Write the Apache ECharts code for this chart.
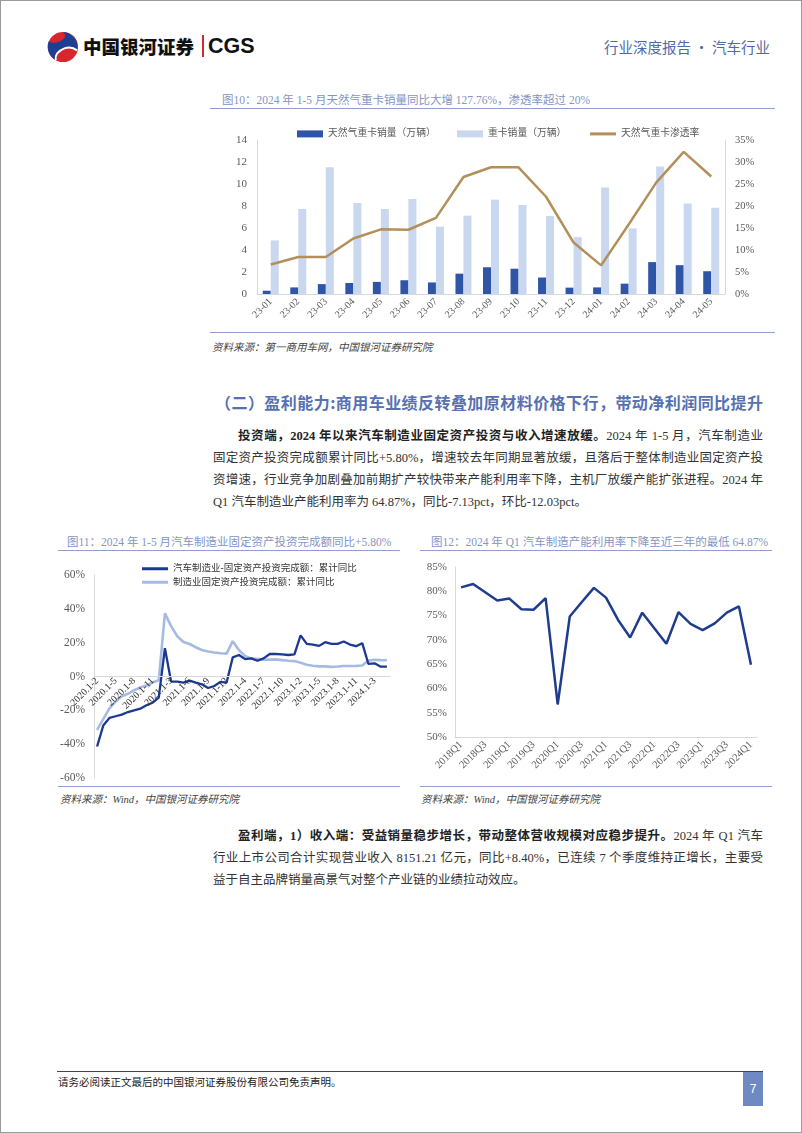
<!DOCTYPE html>
<html><head><meta charset="utf-8">
<script src="https://cdn.jsdelivr.net/npm/echarts@6/dist/echarts.min.js"></script>
<style>
html,body{margin:0;padding:0}
body{width:802px;height:1133px;position:relative;background:#fff;overflow:hidden;font-family:"Liberation Serif","Noto Sans CJK SC",serif;color:#333}
.abs{position:absolute}
.frame{left:0;top:0;width:800px;height:1131px;border:1px solid #9a9a9a}
.ttl{font-size:11.5px;color:#8395c4;white-space:nowrap}
.hl{height:0;border-top:1.5px solid #8fa0cc}
.src{font-size:10.5px;font-style:italic;color:#444;white-space:nowrap}
.p{left:213px;width:550px;font-size:12.5px;line-height:22px;text-align:justify;text-align-last:justify;white-space:nowrap;color:#333}
.p b{font-weight:bold;color:#222}
.chart{position:absolute}
</style></head><body>
<div class="abs frame"></div>

<!-- header -->
<svg class="abs" style="left:47px;top:31px" width="32" height="32" viewBox="0 0 33 33">
  <circle cx="16.5" cy="16.5" r="15.5" fill="#d8262f"/>
  <path d="M16.5 1 A15.5 15.5 0 0 1 31 20 C26 14 18 16 14 19 C10 22 8 26 9 30 A15.5 15.5 0 0 1 2 10 C5 14 12 12 16 9 C19 7 20 4 16.5 1 Z" fill="#1c3f94"/>
  <path d="M9 30 C8 24 13 20 18 18 C23 16 27 17 31 20" stroke="#fff" stroke-width="2" fill="none"/>
</svg>
<div class="abs" style="left:83px;top:34px;font-family:'Noto Sans CJK SC',sans-serif;font-weight:900;font-size:18.5px;line-height:24px;color:#111;white-space:nowrap">中国银河证券</div>
<div class="abs" style="left:202px;top:35px;width:2px;height:22px;background:#d8262f"></div>
<div class="abs" style="left:208px;top:32px;font-family:'Liberation Sans',sans-serif;font-weight:bold;font-size:21.5px;line-height:28px;color:#111">CGS</div>
<div class="abs" style="left:604px;top:36px;font-size:14.5px;color:#506aa5;white-space:nowrap;font-family:'Noto Sans CJK SC',sans-serif">行业深度报告 · 汽车行业</div>

<!-- chart 1 -->
<div class="abs ttl" style="left:222px;top:91px">图10：2024 年 1-5 月天然气重卡销量同比大增 127.76%，渗透率超过 20%</div>
<div class="abs hl" style="left:210px;top:108px;width:565px"></div>
<div id="c1" class="chart" style="left:210px;top:112px;width:565px;height:220px"></div>
<div class="abs hl" style="left:210px;top:332px;width:565px"></div>
<div class="abs src" style="left:212px;top:339px">资料来源：第一商用车网，中国银河证券研究院</div>

<!-- heading + paragraph -->
<div class="abs" style="left:215px;top:390px;width:548px;font-family:'Noto Sans CJK SC',sans-serif;font-weight:bold;font-size:16px;color:#5670b0;white-space:nowrap;text-align:justify;text-align-last:justify">（二）盈利能力:商用车业绩反转叠加原材料价格下行，带动净利润同比提升</div>
<div class="abs p" style="top:425px;left:238px;width:525px"><b>投资端，2024 年以来汽车制造业固定资产投资与收入增速放缓。</b>2024 年 1-5 月，汽车制造业</div>
<div class="abs p" style="top:447px">固定资产投资完成额累计同比+5.80%，增速较去年同期显著放缓，且落后于整体制造业固定资产投</div>
<div class="abs p" style="top:469px">资增速，行业竞争加剧叠加前期扩产较快带来产能利用率下降，主机厂放缓产能扩张进程。2024 年</div>
<div class="abs p" style="top:491px;text-align-last:left">Q1 汽车制造业产能利用率为 64.87%，同比-7.13pct，环比-12.03pct。</div>

<!-- chart 2 -->
<div class="abs ttl" style="left:67px;top:533px">图11：2024 年 1-5 月汽车制造业固定资产投资完成额同比+5.80%</div>
<div class="abs hl" style="left:58px;top:550px;width:342px"></div>
<div id="c2" class="chart" style="left:40px;top:555px;width:365px;height:230px"></div>
<div class="abs hl" style="left:58px;top:786px;width:342px"></div>
<div class="abs src" style="left:60px;top:791px">资料来源：Wind，中国银河证券研究院</div>

<!-- chart 3 -->
<div class="abs ttl" style="left:431px;top:533px">图12：2024 年 Q1 汽车制造产能利用率下降至近三年的最低 64.87%</div>
<div class="abs hl" style="left:420px;top:550px;width:352px"></div>
<div id="c3" class="chart" style="left:405px;top:555px;width:370px;height:230px"></div>
<div class="abs hl" style="left:420px;top:786px;width:352px"></div>
<div class="abs src" style="left:421px;top:791px">资料来源：Wind，中国银河证券研究院</div>

<!-- paragraph 2 -->
<div class="abs p" style="top:825px;left:238px;width:525px"><b>盈利端，1）收入端：受益销量稳步增长，带动整体营收规模对应稳步提升。</b>2024 年 Q1 汽车</div>
<div class="abs p" style="top:847px">行业上市公司合计实现营业收入 8151.21 亿元，同比+8.40%，已连续 7 个季度维持正增长，主要受</div>
<div class="abs p" style="top:869px;text-align-last:left">益于自主品牌销量高景气对整个产业链的业绩拉动效应。</div>

<!-- footer -->
<div class="abs" style="left:57px;top:1071px;width:706px;height:0;border-top:1px solid #444"></div>
<div class="abs" style="left:58px;top:1074px;font-size:10.5px;color:#222;white-space:nowrap">请务必阅读正文最后的中国银河证券股份有限公司免责声明。</div>
<div class="abs" style="left:743px;top:1072px;width:20px;height:34px;background:#6f89c2;color:#fff;font-size:12px;text-align:center;line-height:34px;font-family:'Liberation Sans',sans-serif">7</div>

<script>
// ---------- data ----------
const months1 = ['23-01','23-02','23-03','23-04','23-05','23-06','23-07','23-08','23-09','23-10','23-11','23-12','24-01','24-02','24-03','24-04','24-05'];
const ngTruckSales = [0.3,0.6,0.9,1.0,1.1,1.25,1.05,1.85,2.43,2.3,1.5,0.58,0.6,0.94,2.9,2.62,2.07];
const heavyTruckSales = [4.87,7.73,11.53,8.28,7.73,8.64,6.12,7.12,8.58,8.09,7.09,5.17,9.68,5.96,11.59,8.22,7.85];
const ngPenetration = [6.7,8.4,8.4,12.6,14.7,14.6,17.3,26.6,28.8,28.8,22.1,11.7,6.5,15.8,25.3,32.3,26.7];

const periods2 = ['2020.1-2','2020.1-3','2020.1-4','2020.1-5','2020.1-6','2020.1-7','2020.1-8','2020.1-9','2020.1-10','2020.1-11','2020.1-12',
'2021.1-2','2021.1-3','2021.1-4','2021.1-5','2021.1-6','2021.1-7','2021.1-8','2021.1-9','2021.1-10','2021.1-11','2021.1-12',
'2022.1-2','2022.1-3','2022.1-4','2022.1-5','2022.1-6','2022.1-7','2022.1-8','2022.1-9','2022.1-10','2022.1-11','2022.1-12',
'2023.1-2','2023.1-3','2023.1-4','2023.1-5','2023.1-6','2023.1-7','2023.1-8','2023.1-9','2023.1-10','2023.1-11','2023.1-12',
'2024.1-2','2024.1-3','2024.1-4','2024.1-5'];
const autoFAI = [-41.4,-29,-24.5,-23.5,-22.5,-21,-20,-19,-17,-15.5,-12.5,
16.7,-3,-3,-3.6,-2.4,-3.6,-4.6,-6.8,-5.6,-3.2,-3.6,
11.3,12.7,10.3,10.7,9.3,10.7,13.3,13.3,13.1,12.7,13.1,
24.3,19.3,18.9,18.1,20.3,19.3,19.3,20.7,18.9,17.9,19.7,
7.4,7.8,5.8,5.8];
const mfgFAI = [-31.5,-25.2,-18.8,-14.8,-11.7,-10.2,-8.1,-6.5,-5.3,-3.5,-2.2,
37.3,29.8,23.8,20.4,19.2,17.3,15.7,14.8,14.2,13.7,13.5,
20.9,15.6,12.2,10.6,10.4,9.9,10.0,10.1,9.7,9.3,9.1,
8.1,7.0,6.4,6.0,6.0,5.7,5.9,6.2,6.2,6.3,6.5,
9.4,9.9,9.7,9.6];

const quarters3 = ['2018Q1','2018Q2','2018Q3','2018Q4','2019Q1','2019Q2','2019Q3','2019Q4','2020Q1','2020Q2','2020Q3','2020Q4',
'2021Q1','2021Q2','2021Q3','2021Q4','2022Q1','2022Q2','2022Q3','2022Q4','2023Q1','2023Q2','2023Q3','2023Q4','2024Q1'];
const capacityUtil = [80.8,81.5,79.8,78.1,78.5,76.3,76.2,78.6,56.7,74.8,77.8,80.7,78.7,74.1,70.5,75.6,72.4,69.2,75.7,73.3,72.0,73.4,75.6,76.9,64.87];

// ---------- charts ----------
const FONT = '"Liberation Serif","Noto Sans CJK SC",serif';
const TXT = '#595959';
const AX = '#d9d9d9';
const legTxt = {fontSize:9.8,color:TXT,fontFamily:FONT};

const c1 = echarts.init(document.getElementById('c1'));
c1.setOption({
  animation:false,
  textStyle:{fontFamily:FONT},
  legend:[
    {top:12,left:82,itemWidth:26,itemHeight:7,icon:'rect',textStyle:legTxt,data:['天然气重卡销量（万辆）']},
    {top:12,left:242,itemWidth:26,itemHeight:7,icon:'rect',textStyle:legTxt,data:['重卡销量（万辆）']},
    {top:12,left:375,itemWidth:26,itemHeight:3,icon:'rect',textStyle:legTxt,data:['天然气重卡渗透率']}
  ],
  grid:{left:47,right:50,top:28,height:154},
  xAxis:{type:'category',data:months1,
    axisLine:{lineStyle:{color:AX}},axisTick:{show:false},
    axisLabel:{rotate:45,fontSize:10,color:TXT,margin:6,interval:0,fontFamily:FONT}},
  yAxis:[
    {type:'value',min:0,max:14,interval:2,splitLine:{show:false},
     axisLine:{show:true,lineStyle:{color:AX}},axisLabel:{fontSize:11,color:TXT,margin:10,fontFamily:FONT}},
    {type:'value',min:0,max:35,interval:5,splitLine:{show:false},
     axisLine:{show:true,lineStyle:{color:AX}},axisLabel:{fontSize:10.5,color:TXT,margin:10,formatter:'{value}%',fontFamily:FONT}}
  ],
  series:[
    {name:'天然气重卡销量（万辆）',type:'bar',data:ngTruckSales,barWidth:8,barGap:'0%',itemStyle:{color:'#2f56a6'}},
    {name:'重卡销量（万辆）',type:'bar',data:heavyTruckSales,barWidth:8,barGap:'0%',itemStyle:{color:'#c9d7ef'}},
    {name:'天然气重卡渗透率',type:'line',yAxisIndex:1,data:ngPenetration,symbol:'none',
     lineStyle:{color:'#b38f5a',width:2.5},itemStyle:{color:'#b38f5a'}}
  ]
});

const c2 = echarts.init(document.getElementById('c2'));
c2.setOption({
  animation:false,
  textStyle:{fontFamily:FONT},
  legend:{orient:'vertical',left:97,top:4,itemGap:4,itemWidth:26,itemHeight:3,icon:'rect',
    textStyle:{fontSize:9.5,color:'#333',fontFamily:FONT},
    data:['汽车制造业-固定资产投资完成额：累计同比','制造业固定资产投资完成额：累计同比']},
  grid:{left:54,right:15,top:20,height:203},
  xAxis:{type:'category',data:periods2,boundaryGap:true,position:'bottom',offset:-101.5,z:5,
    axisLine:{onZero:false,lineStyle:{color:AX}},axisTick:{show:false},
    axisLabel:{rotate:45,fontSize:9.8,color:'#333',margin:3,interval:2,fontFamily:FONT}},
  yAxis:{type:'value',min:-60,max:60,interval:20,splitLine:{show:false},
    axisLine:{show:true,lineStyle:{color:AX}},
    axisLabel:{fontSize:11.5,color:TXT,margin:9,formatter:'{value}%',fontFamily:FONT}},
  series:[
    {name:'汽车制造业-固定资产投资完成额：累计同比',type:'line',data:autoFAI,symbol:'none',z:3,
     lineStyle:{color:'#1b3a8f',width:2.3},itemStyle:{color:'#1b3a8f'}},
    {name:'制造业固定资产投资完成额：累计同比',type:'line',data:mfgFAI,symbol:'none',z:2,
     lineStyle:{color:'#a6bbe4',width:2.6},itemStyle:{color:'#a6bbe4'}}
  ]
});

const c3 = echarts.init(document.getElementById('c3'));
c3.setOption({
  animation:false,
  textStyle:{fontFamily:FONT},
  grid:{left:50,right:18,top:12,height:170},
  xAxis:{type:'category',data:quarters3,boundaryGap:true,
    axisLine:{lineStyle:{color:AX}},axisTick:{show:false},
    axisLabel:{rotate:45,fontSize:10.5,color:TXT,margin:6,interval:1,fontFamily:FONT}},
  yAxis:{type:'value',min:50,max:85,interval:5,splitLine:{show:false},
    axisLine:{show:true,lineStyle:{color:AX}},
    axisLabel:{fontSize:11,color:TXT,margin:8,formatter:'{value}%',fontFamily:FONT}},
  series:[{type:'line',data:capacityUtil,symbol:'none',lineStyle:{color:'#1f3d8c',width:2.5}}]
});
</script>
</body></html>
